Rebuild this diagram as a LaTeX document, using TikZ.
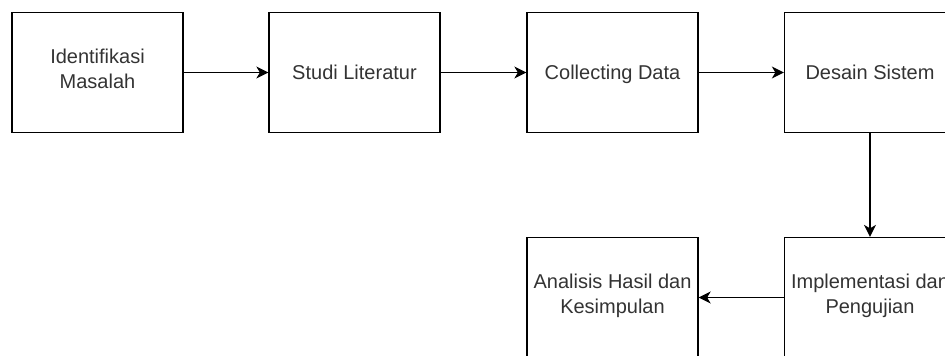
\documentclass[tikz,border=0pt]{standalone}
\usepackage{fontspec}
\setmainfont{Liberation Sans}
\usetikzlibrary{arrows.meta}

\tikzset{
	stage/.style={draw,line width=1.3pt,minimum width=171pt,minimum height=120pt,inner sep=0pt,align=center,font=\fontsize{20}{25}\selectfont,text=black!80,execute at begin node=\rule{0pt}{22pt},execute at end node=\strut},
	flow/.style={line width=1.3pt,-{Stealth[length=12pt,width=12pt,inset=3.5pt]}}
}

\begin{document}
\begin{tikzpicture}[x=1pt,y=1pt]
	\useasboundingbox (0,0) rectangle (945,356);
	\node[stage] (masalah) at (97.5,283.5) {Identifikasi\\Masalah};
	\node[stage] (studi) at (354.5,283.5) {Studi Literatur};
	\node[stage] (data) at (612.5,283.5) {Collecting Data};
	\node[stage] (desain) at (870,283.5) {Desain Sistem};
	\node[stage] (uji) at (870,58.5) {Implementasi dan\\Pengujian};
	\node[stage] (analisis) at (612.5,58.5) {Analisis Hasil dan\\Kesimpulan};
	\draw[flow] (masalah) -- (studi);
	\draw[flow] (studi) -- (data);
	\draw[flow] (data) -- (desain);
	\draw[flow] (desain) -- (uji);
	\draw[flow] (uji) -- (analisis);
\end{tikzpicture}
\end{document}
